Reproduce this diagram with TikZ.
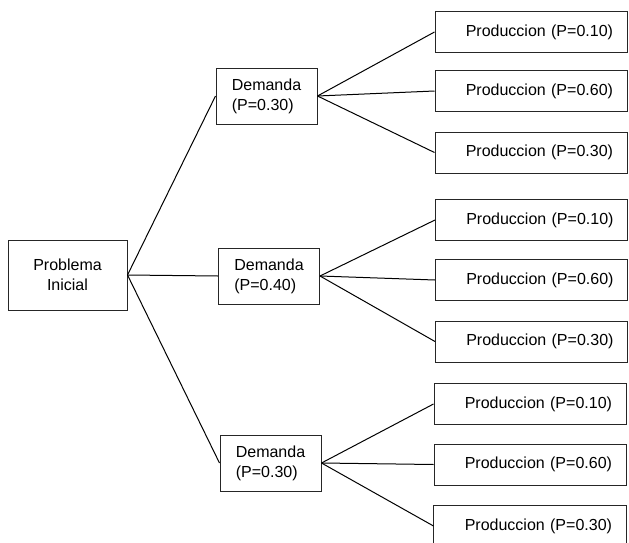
\documentclass[tikz,border=0pt]{standalone}
\usepackage{fontspec}
\setmainfont{Liberation Sans}
\begin{document}
\begin{tikzpicture}[x=0.75pt,y=-0.75pt,
  boxline/.style={draw=black!85, line width=0.75pt},
  box/.style={boxline, rectangle, inner sep=0pt, font=\fontsize{12}{15.2}\selectfont},
  rootbox/.style={box, minimum width=119*0.75pt, minimum height=70*0.75pt, align=center},
  dembox/.style={box, minimum width=101*0.75pt, minimum height=56*0.75pt, align=left},
  prodbox/.style={box, minimum width=192*0.75pt, minimum height=41*0.75pt, text width=164*0.75pt, align=right},
  link/.style={draw=black, line width=0.75pt}]
\useasboundingbox (0,0) rectangle (629,543);
\clip (0,0) rectangle (629,543);
\fill[white] (0,0) rectangle (629,543);

\node[rootbox] (root) at (67.5,275) {Problema\\Inicial};

\node[dembox] (d1) at (266.5,96) {Demanda\\(P=0.30)};
\node[dembox] (d2) at (269,276) {Demanda\\(P=0.40)};
\node[dembox] (d3) at (270.5,463) {Demanda\\(P=0.30)};

\node[prodbox] (p11) at (531,32) {Produccion (P=0.10)};
\node[prodbox] (p12) at (531,91) {Produccion (P=0.60)};
\node[prodbox] (p13) at (531,152.5) {Produccion (P=0.30)};

\node[prodbox] (p21) at (531.5,220) {Produccion (P=0.10)};
\node[prodbox] (p22) at (531.5,280) {Produccion (P=0.60)};
\node[prodbox] (p23) at (531.5,341.5) {Produccion (P=0.30)};

\node[prodbox] (p31) at (530,404) {Produccion (P=0.10)};
\node[prodbox] (p32) at (530,464.5) {Produccion (P=0.60)};
\node[prodbox, draw=none] (p33) at (530,526) {Produccion (P=0.30)};
\draw[boxline] ([yshift=-12pt]p33.south west) |- (p33.north east) -- ([yshift=-12pt]p33.south east);

\draw[link] (root.east) -- (d1.west);
\draw[link] (root.east) -- (d2.west);
\draw[link] (root.east) -- (d3.west);

\draw[link] (d1.east) -- (p11.west);
\draw[link] (d1.east) -- (p12.west);
\draw[link] (d1.east) -- (p13.west);
\draw[link] (d2.east) -- (p21.west);
\draw[link] (d2.east) -- (p22.west);
\draw[link] (d2.east) -- (p23.west);
\draw[link] (d3.east) -- (p31.west);
\draw[link] (d3.east) -- (p32.west);
\draw[link] (d3.east) -- (p33.west);
\end{tikzpicture}
\end{document}
